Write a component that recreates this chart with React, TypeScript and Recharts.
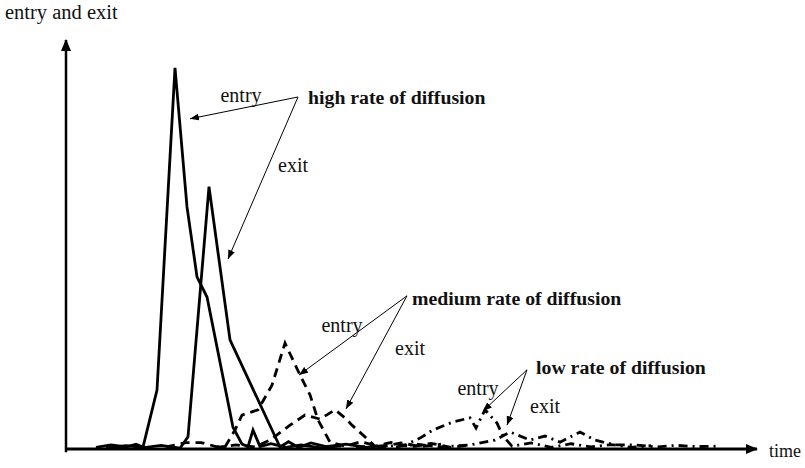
import { LineChart, Line, XAxis, YAxis, ReferenceLine, ReferenceDot } from 'recharts';

// time in arbitrary units, response in % of the axis height
const highEntryT = [6, 9, 12, 14, 15.4, 18.2, 21.8, 24.2, 26.2, 28.2, 33.4, 35.2, 36.4, 37.4, 38.8, 41, 44, 47, 51, 55];
const highEntryV = [0.4, 1.0, 0.5, 1.2, 0.5, 14.6, 94.3, 59.9, 42.6, 37.6, 5.4, 1.2, 0.6, 4.7, 0.6, 1.3, 0.4, 1.0, 0.3, 0.8];

const highExitT = [8, 12, 16, 19, 22.8, 24.4, 28.6, 32.8, 42.8, 44.5, 46.5, 49, 52, 56, 60, 64];
const highExitV = [0.3, 0.8, 0.4, 0.9, 0.2, 3.0, 64.9, 27.0, 0.5, 1.8, 0.4, 1.5, 0.6, 1.2, 0.4, 0.9];

const mediumEntryT = [20, 24, 27, 30, 31.8, 33.8, 35.2, 38.4, 41.2, 43.8, 46.8, 48.8, 50.4, 52.8, 55.8, 59, 63, 67, 71, 75];
const mediumEntryV = [0.5, 1.6, 1.6, 0.6, 0.5, 4.7, 8.4, 9.7, 15.8, 26.2, 18.3, 13.4, 7.2, 1.7, 0.7, 1.8, 0.5, 1.5, 0.6, 1.2];

const mediumExitT = [30, 34, 37.8, 40.8, 44.8, 47.8, 50.8, 53.8, 55.8, 57.2, 59.8, 61.8, 65, 69, 73, 77, 81];
const mediumExitV = [0.4, 1.0, 0.5, 2.2, 5.9, 8.4, 7.4, 9.7, 7.7, 5.9, 3.0, 0.7, 1.6, 0.5, 1.4, 0.4, 1.0];

const lowEntryT = [58, 62.8, 67.8, 70.8, 73.4, 77.4, 80.8, 82, 83.8, 86.2, 87.4, 89.2, 93, 97, 101, 105, 109, 113, 117];
const lowEntryV = [0.6, 0.5, 1.0, 2.7, 4.7, 6.7, 7.7, 5.2, 9.7, 6.4, 3.2, 0.7, 1.5, 0.4, 1.3, 0.5, 1.1, 0.4, 0.8];

const lowExitT = [66, 70, 74.8, 80.8, 85.8, 88.8, 92.8, 95.8, 98.8, 102.8, 105.8, 109.8, 114, 118, 122, 126, 130.8];
const lowExitV = [0.5, 1.2, 0.5, 1.0, 2.2, 4.2, 2.2, 3.2, 1.7, 4.2, 2.2, 1.0, 1.0, 0.5, 0.9, 0.6, 0.7];

// annotation texts: [label, t, v, bold]
const labels: [string, number, number, boolean][] = [
  ['high rate of diffusion', 48.4, 87.1, true],
  ['entry', 35, 87.6, false],
  ['exit', 45.4, 70.3, false],
  ['medium rate of diffusion', 69.2, 37.4, true],
  ['entry', 55.2, 30.7, false],
  ['exit', 68.8, 25.0, false],
  ['low rate of diffusion', 94, 20.3, true],
  ['entry', 82.4, 15.1, false],
  ['exit', 95.8, 10.6, false],
];

// annotation pointers: [fromT, fromV, toT, toV]
const pointers: [number, number, number, number][] = [
  [46.4, 87.1, 24.8, 81.7],
  [46.4, 87.1, 32.4, 47.0],
  [68.2, 37.9, 46.6, 18.3],
  [68.2, 37.9, 56, 9.9],
  [92.2, 19.6, 83.4, 9.4],
  [92.2, 19.6, 88.2, 5.9],
];

const T_MAX = 138.2;
const V_MAX = 101.2;

const zip = (ts: number[], vs: number[]) => ts.map((t, i) => ({ t, v: vs[i] }));

const font = '"Liberation Serif", "Times New Roman", serif';

export default function App() {
  const lineProps = { type: 'linear' as const, dataKey: 'v', stroke: '#000', strokeWidth: 2.8, dot: false, isAnimationActive: false };
  return (
    <div style={{ position: 'absolute', left: 0, top: 0, width: 805, height: 468, background: '#fff', fontFamily: font }}>
      <div style={{ position: 'absolute', left: 5, top: 1, fontSize: 20.5, color: '#111', fontWeight: 500 }}>entry and exit</div>
      <div style={{ position: 'absolute', left: 769, top: 441, fontSize: 18, color: '#111' }}>time</div>
      <LineChart width={805} height={468} margin={{ top: 40, right: 48, bottom: 19, left: 66 }}>
        <defs>
          <marker id="axisArrow" viewBox="0 0 12 10" refX="11" refY="5" markerWidth="12" markerHeight="10" markerUnits="userSpaceOnUse" orient="auto">
            <path d="M0,0 L12,5 L0,10 z" fill="#000" />
          </marker>
          <marker id="tip" viewBox="0 0 9 7" refX="9" refY="3.5" markerWidth="9" markerHeight="7" markerUnits="userSpaceOnUse" orient="auto">
            <path d="M0,0 L9,3.5 L0,7 z" fill="#000" />
          </marker>
        </defs>
        <XAxis dataKey="t" type="number" domain={[0, T_MAX]} height={0} tick={false} tickLine={false} axisLine={false} />
        <YAxis type="number" domain={[0, V_MAX]} width={0} tick={false} tickLine={false} axisLine={false} />
        <ReferenceLine
          segment={[{ x: 0, y: 0 }, { x: T_MAX, y: 0 }]}
          stroke="#000"
          strokeWidth={3}
          markerEnd="url(#axisArrow)"
          ifOverflow="visible"
        />
        <ReferenceLine
          segment={[{ x: 0, y: -0.8 }, { x: 0, y: V_MAX }]}
          stroke="#000"
          strokeWidth={2.5}
          markerEnd="url(#axisArrow)"
          ifOverflow="visible"
        />
        <Line {...lineProps} data={zip(highEntryT, highEntryV)} />
        <Line {...lineProps} data={zip(highExitT, highExitV)} />
        <Line {...lineProps} data={zip(mediumEntryT, mediumEntryV)} strokeDasharray="9 6" />
        <Line {...lineProps} data={zip(mediumExitT, mediumExitV)} strokeDasharray="9 6" />
        <Line {...lineProps} data={zip(lowEntryT, lowEntryV)} strokeDasharray="9 5 2 5" />
        <Line {...lineProps} data={zip(lowExitT, lowExitV)} strokeDasharray="9 5 2 5" />
        {pointers.map(([t1, v1, t2, v2], i) => (
          <ReferenceLine
            key={`p${i}`}
            segment={[{ x: t1, y: v1 }, { x: t2, y: v2 }]}
            stroke="#000"
            strokeWidth={1}
            markerEnd="url(#tip)"
          />
        ))}
        {labels.map(([text, t, v, bold], i) => (
          <ReferenceDot
            key={`l${i}`}
            x={t}
            y={v}
            r={0}
            shape={(p: any) => (
              <text
                x={p.cx}
                y={p.cy}
                dy="0.35em"
                textAnchor={bold ? 'start' : 'middle'}
                fontFamily={font}
                fontWeight={bold ? 700 : 400}
                fontSize={bold ? 19.8 : 20}
                fill="#111"
              >
                {text}
              </text>
            )}
          />
        ))}
      </LineChart>
    </div>
  );
}
